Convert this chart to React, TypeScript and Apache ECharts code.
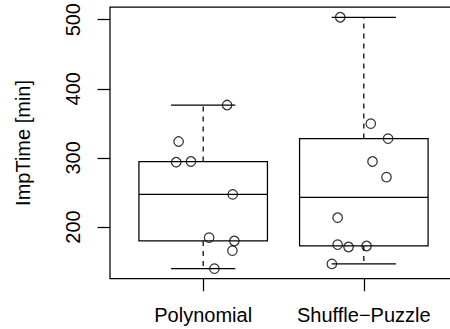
import React, { useEffect, useRef } from "react";
import * as echarts from "echarts";

const categories = ["Polynomial", "Shuffle\u2212Puzzle"];
const polynomialValues = [376.5, 323.7, 293.8, 294.8, 247.2, 184.6, 179.8, 165.8, 139.8];
const polynomialJitter = [0.149, -0.153, -0.168, -0.076, 0.184, 0.037, 0.194, 0.182, 0.07];
const shuffleValues = [503.5, 349.6, 328.0, 294.8, 272.2, 213.5, 174.5, 171.1, 172.6, 146.6];
const shuffleJitter = [-0.147, 0.043, 0.151, 0.054, 0.141, -0.163, -0.163, -0.095, 0.017, -0.199];
const yTicks = [200, 300, 400, 500];
const xTicks = [1, 2];

function median(a: number[]): number {
  const n = a.length;
  const m = Math.floor(n / 2);
  return n % 2 ? a[m] : (a[m - 1] + a[m]) / 2;
}

function fivenum(vals: number[]): number[] {
  const s = [...vals].sort((a, b) => a - b);
  const n = s.length;
  const half = Math.floor((n + 3) / 2) - 1; // tukey hinge
  const n4 = Math.floor((n + 3) / 2) / 2;
  const d = [1, n4, (n + 1) / 2, n + 1 - n4, n];
  const res = d.map((p) => 0.5 * (s[Math.floor(p) - 1] + s[Math.ceil(p) - 1]));
  void half;
  void median;
  return res;
}

const groups = [polynomialValues, shuffleValues];
const jitters = [polynomialJitter, shuffleJitter];

export default function App() {
  const ref = useRef<HTMLDivElement>(null);
  useEffect(() => {
    if (!ref.current) return;
    const chart = echarts.init(ref.current, null, { renderer: "svg" });
    const boxData = groups.map((g, i) => [i + 1, ...fivenum(g)]);
    const pointData: number[][] = [];
    groups.forEach((g, i) => g.forEach((v, j) => pointData.push([i + 1 + jitters[i][j], v])));
    const lw = 1.25;
    const font = "Liberation Sans, Arial, Helvetica, sans-serif";
    chart.setOption({
      animation: false,
      grid: { left: 110, top: 6.5, right: 3, bottom: 50.3, show: true, borderColor: "#000", borderWidth: lw, backgroundColor: "transparent" },
      xAxis: {
        type: "value",
        min: 0.42,
        max: 2.58,
        splitLine: { show: false },
        axisLine: { show: false },
        axisTick: { show: true, customValues: xTicks, length: 12.5, lineStyle: { color: "#000", width: lw } },
        axisLabel: {
          customValues: xTicks,
          formatter: (v: number) => categories[Math.round(v) - 1] ?? "",
          color: "#000",
          fontSize: 20,
          fontFamily: font,
          margin: 26,
        },
      },
      yAxis: {
        type: "value",
        min: 125.25,
        max: 518.05,
        name: "ImpTime [min]",
        nameLocation: "middle",
        nameRotate: 90,
        nameGap: 77,
        nameTextStyle: { color: "#000", fontSize: 20, fontFamily: font },
        splitLine: { show: false },
        axisLine: { show: false },
        axisTick: { show: true, customValues: yTicks, length: 12.5, lineStyle: { color: "#000", width: lw } },
        axisLabel: {
          customValues: yTicks,
          rotate: 90,
          color: "#000",
          fontSize: 20,
          fontFamily: font,
          margin: 27,
        },
      },
      series: [
        {
          type: "custom",
          data: boxData,
          renderItem: (params: any, api: any) => {
            const x = api.value(0);
            const mn = api.value(1), q1 = api.value(2), md = api.value(3), q3 = api.value(4), mx = api.value(5);
            const L = api.coord([x - 0.4, q3]);
            const R = api.coord([x + 0.4, q1]);
            const cl = api.coord([x - 0.2, mx])[0];
            const cr = api.coord([x + 0.2, mx])[0];
            const cx = api.coord([x, md])[0];
            const yMd = api.coord([x, md])[1];
            const yMn = api.coord([x, mn])[1];
            const yMx = api.coord([x, mx])[1];
            const stroke = { stroke: "#000", lineWidth: lw, fill: "none" };
            return {
              type: "group",
              children: [
                { type: "line", shape: { x1: cx, y1: L[1], x2: cx, y2: yMx }, style: { ...stroke, lineDash: [5, 5] } },
                { type: "line", shape: { x1: cx, y1: R[1], x2: cx, y2: yMn }, style: { ...stroke, lineDash: [5, 5] } },
                { type: "line", shape: { x1: cl, y1: yMx, x2: cr, y2: yMx }, style: stroke },
                { type: "line", shape: { x1: cl, y1: yMn, x2: cr, y2: yMn }, style: stroke },
                { type: "rect", shape: { x: L[0], y: L[1], width: R[0] - L[0], height: R[1] - L[1] }, style: stroke },
                { type: "line", shape: { x1: L[0], y1: yMd, x2: R[0], y2: yMd }, style: stroke },
              ],
            };
          },
          z: 1,
        },
        {
          type: "scatter",
          data: pointData,
          symbol: "circle",
          symbolSize: 9.5,
          itemStyle: { color: "transparent", borderColor: "#000", borderWidth: lw },
          z: 2,
        },
      ],
    });
    return () => chart.dispose();
  }, []);
  return (
    <div style={{ position: "absolute", left: 0, top: 0, width: 450, height: 329, overflow: "hidden", background: "#fff" }}>
      <div ref={ref} style={{ width: 460, height: 329 }} />
    </div>
  );
}
